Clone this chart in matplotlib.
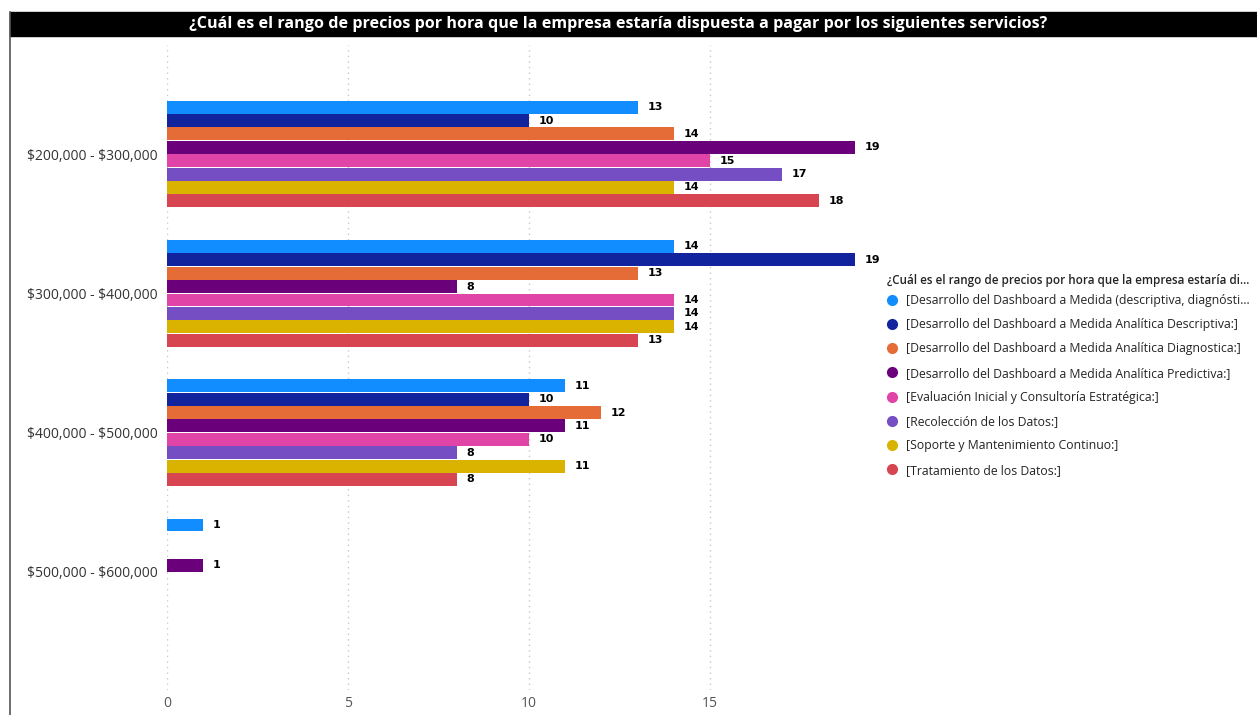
import numpy as np
import matplotlib.pyplot as plt
from matplotlib.lines import Line2D

plt.rcParams['font.family'] = ['Open Sans', 'DejaVu Sans']

# data
categories = ["\\$200,000 - \\$300,000", "\\$300,000 - \\$400,000",
              "\\$400,000 - \\$500,000", "\\$500,000 - \\$600,000"]
series_names = [
    "[Desarrollo del Dashboard a Medida (descriptiva, diagnósti...",
    "[Desarrollo del Dashboard a Medida Analítica Descriptiva:]",
    "[Desarrollo del Dashboard a Medida Analítica Diagnostica:]",
    "[Desarrollo del Dashboard a Medida Analítica Predictiva:]",
    "[Evaluación Inicial y Consultoría Estratégica:]",
    "[Recolección de los Datos:]",
    "[Soporte y Mantenimiento Continuo:]",
    "[Tratamiento de los Datos:]",
]
dash_medida = [13, 14, 11, 1]
dash_descriptiva = [10, 19, 10, np.nan]
dash_diagnostica = [14, 13, 12, np.nan]
dash_predictiva = [19, 8, 11, 1]
evaluacion = [15, 14, 10, np.nan]
recoleccion = [17, 14, 8, np.nan]
soporte = [14, 14, 11, np.nan]
tratamiento = [18, 13, 8, np.nan]
series_values = [dash_medida, dash_descriptiva, dash_diagnostica, dash_predictiva,
                 evaluacion, recoleccion, soporte, tratamiento]
colors = ["#118DFF", "#12239E", "#E66C37", "#6B007B",
          "#E044A7", "#744EC2", "#D9B300", "#D64550"]
legend_title = "¿Cuál es el rango de precios por hora que la empresa estaría di..."
title = "¿Cuál es el rango de precios por hora que la empresa estaría dispuesta a pagar por los siguientes servicios?"

W, H = 1257, 715
fig = plt.figure(figsize=(W / 100, H / 100), dpi=100)

# title bar + left border
fig.patches.append(plt.Rectangle((10 / W, 1 - 36 / H), 1 - 10 / W, 24 / H,
                                 transform=fig.transFigure, color="black", zorder=0))
fig.text(618 / W, 1 - 24 / H, title, color="white", fontsize=11.6,
         fontweight="bold", ha="center", va="center")
fig.add_artist(Line2D([10 / W, 10 / W], [0, 1 - 12 / H], transform=fig.transFigure,
                      color="#555555", lw=1.2))

# axes: x 0 at px 167, 1 unit = 36.2 px
x0, unit = 167, 36.2
xmax = 19
ax = fig.add_axes([x0 / W, 1 - 690 / H, xmax * unit / W, (690 - 45) / H])

gstep = 139.3
gtop = 154
ax.set_ylim((690 - gtop) / gstep, (45 - gtop) / gstep)
ax.set_xlim(0, xmax)

n = len(series_values)
slot = 13.4 / gstep
y = np.arange(len(categories))
for j, (vals, c) in enumerate(zip(series_values, colors)):
    pos = y + (j - (n - 1) / 2) * slot
    vals = np.array(vals, dtype=float)
    ok = ~np.isnan(vals)
    ax.barh(pos[ok], vals[ok], height=slot * 0.96, color=c, zorder=2)
    for p, v in zip(pos[ok], vals[ok]):
        ax.annotate(f"{int(v)}", (v, p), xytext=(7, 0), textcoords="offset points",
                    va="center", ha="left", fontsize=8, fontweight="bold",
                    color="black", family=["DejaVu Sans"])

ax.set_yticks(y)
ax.set_yticklabels(categories, fontsize=10, color="#333333")
ax.set_xticks([0, 5, 10, 15])
ax.tick_params(length=0, axis="y", pad=7)
ax.tick_params(length=0, axis="x", pad=4, labelsize=10, labelcolor="#555555")
ax.grid(axis="x", linestyle=(0, (1, 3)), color="#C8C8C8", lw=1, zorder=0)
for s in ax.spines.values():
    s.set_visible(False)

# legend
fig.text(887 / W, 1 - 280 / H, legend_title, fontsize=8.4, fontweight="semibold",
         color="#252423", ha="left", va="center")
handles = [Line2D([], [], marker="o", linestyle="none", markersize=7,
                  markerfacecolor=c, markeredgecolor=c) for c in colors]
leg = fig.legend(handles, series_names, loc="upper left",
                 bbox_to_anchor=(886 / W, 1 - 294 / H), frameon=False,
                 fontsize=8.8, labelspacing=0.92, handletextpad=0.6,
                 handlelength=1.0, borderaxespad=0, borderpad=0)
for t in leg.get_texts():
    t.set_color("#252423")

fig.savefig("out.png", dpi=100)
